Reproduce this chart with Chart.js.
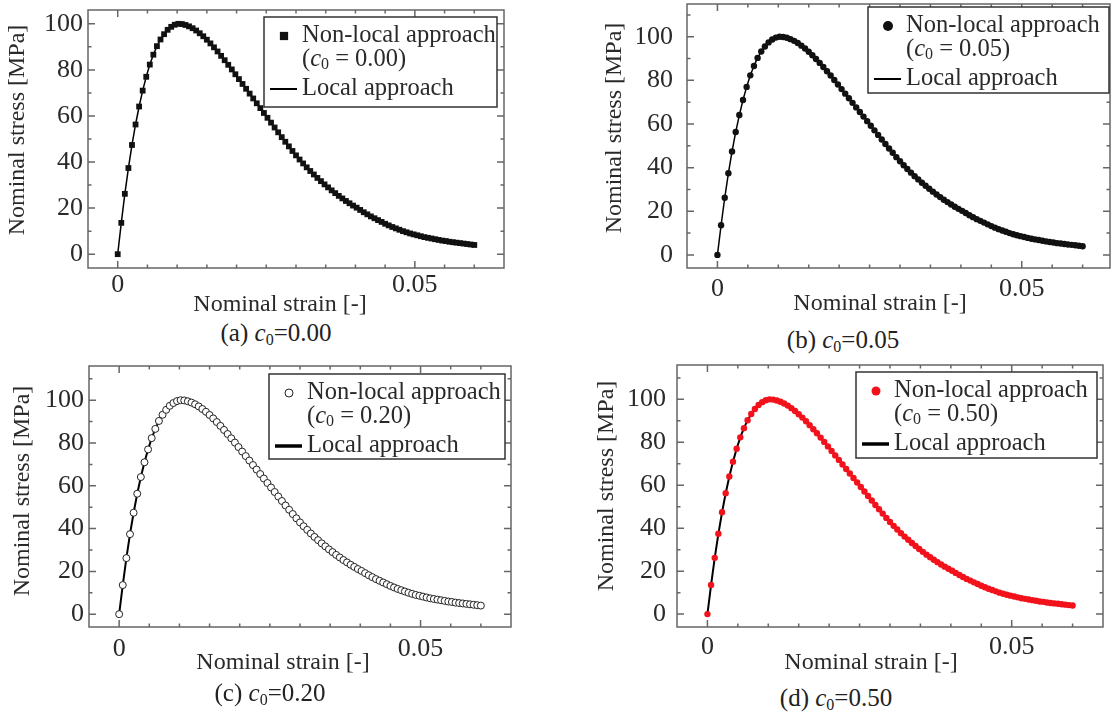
<!DOCTYPE html>
<html>
<head>
<meta charset="utf-8">
<script src="https://cdn.jsdelivr.net/npm/chart.js@4.4.1/dist/chart.umd.min.js"></script>
<style>
  html, body { margin: 0; padding: 0; background: #fff; }
  #page { position: relative; width: 1114px; height: 712px; overflow: hidden; }
  #page canvas { position: absolute; }
  .cap { position: absolute; font: 25px "Liberation Serif", serif; color: #222; white-space: nowrap; transform: translate(-50%, -50%); }
  .cap sub { font-size: 16px; vertical-align: -4px; line-height: 0; }
</style>
</head>
<body>
<div id="page"></div>
<script>
// Data (same curve in all four panels; non-local overlaps local)
const strain = [
  0, 0.0006, 0.0012, 0.0018, 0.0024, 0.003, 0.0036, 0.0042, 0.0048, 0.0054,
  0.006, 0.0066, 0.0072, 0.0078, 0.0084, 0.009, 0.0096, 0.0102, 0.0108, 0.0114,
  0.012, 0.0126, 0.0132, 0.0138, 0.0144, 0.015, 0.0156, 0.0162, 0.0168, 0.0174,
  0.018, 0.0186, 0.0192, 0.0198, 0.0204, 0.021, 0.0216, 0.0222, 0.0228, 0.0234,
  0.024, 0.0246, 0.0252, 0.0258, 0.0264, 0.027, 0.0276, 0.0282, 0.0288, 0.0294,
  0.03, 0.0306, 0.0312, 0.0318, 0.0324, 0.033, 0.0336, 0.0342, 0.0348, 0.0354,
  0.036, 0.0366, 0.0372, 0.0378, 0.0384, 0.039, 0.0396, 0.0402, 0.0408, 0.0414,
  0.042, 0.0426, 0.0432, 0.0438, 0.0444, 0.045, 0.0456, 0.0462, 0.0468, 0.0474,
  0.048, 0.0486, 0.0492, 0.0498, 0.0504, 0.051, 0.0516, 0.0522, 0.0528, 0.0534,
  0.054, 0.0546, 0.0552, 0.0558, 0.0564, 0.057, 0.0576, 0.0582, 0.0588, 0.0594,
  0.06
];
const stress = [
  0, 13.6, 26.2, 37.4, 47.4, 56.3, 64.1, 71.0, 77.0, 82.3,
  86.6, 90.3, 93.2, 95.5, 97.4, 98.7, 99.6, 100.0, 99.9, 99.5,
  98.9, 98.1, 97.1, 95.9, 94.6, 93.1, 91.5, 89.8, 88.0, 86.1,
  84.2, 82.2, 80.2, 78.1, 76.0, 73.9, 71.8, 69.7, 67.6, 65.5,
  63.4, 61.3, 59.2, 57.1, 55.0, 52.9, 50.8, 48.8, 46.8, 44.8,
  42.9, 41.1, 39.4, 37.7, 36.1, 34.6, 33.1, 31.7, 30.3, 29.0,
  27.7, 26.5, 25.3, 24.2, 23.1, 22.1, 21.1, 20.2, 19.2, 18.2,
  17.3, 16.4, 15.6, 14.8, 14.0, 13.2, 12.5, 11.8, 11.2, 10.6,
  10.0, 9.5, 9.0, 8.6, 8.2, 7.8, 7.4, 7.1, 6.8, 6.5,
  6.2, 5.9, 5.7, 5.4, 5.2, 5.0, 4.8, 4.6, 4.4, 4.2,
  4.0
];

// Ticks and labels
const xTickValues = [0, 0.05];
const xTickLabels = ['0', '0.05'];
const xMinorTicks = [0.005, 0.01, 0.015, 0.02, 0.025, 0.03, 0.035, 0.04, 0.045, 0.055, 0.06];
const yTickValues = [0, 20, 40, 60, 80, 100];
const yTickLabels = ['0', '20', '40', '60', '80', '100'];
const yMinorTicks = [10, 30, 50, 70, 90, 110];

const panelLetters = ['a', 'b', 'c', 'd'];
const c0Labels = ['0.00', '0.05', '0.20', '0.50'];
const xTitle = 'Nominal strain [-]';
const yTitle = 'Nominal stress [MPa]';
const legendLabels = ['Non-local approach', 'Local approach'];

// Layout / style per panel (page pixel coords)
const panels = [
  { cl: 0, ct: 0, cw: 556, ch: 318, area: [88, 10, 504, 268], yMax: 106, xMax: 0.065,
    style: 'rect', radius: 4.1, fill: '#111', stroke: '#111', bw: 0, lineW: 1.5, legLineW: 2, legR: 5.5,
    leg: [264, 17, 497, 107], yPad: 5, xPad: 2, yT: [18, 130], xT: [280, 305], cap: [276, 333] },
  { cl: 558, ct: 0, cw: 556, ch: 318, area: [687, 4, 1111, 268], yMax: 115, xMax: 0.0645,
    style: 'circle', radius: 3.2, fill: '#111', stroke: '#111', bw: 0, lineW: 1.5, legLineW: 2, legR: 5,
    leg: [868, 7, 1109, 93], yPad: 14, xPad: 6, yT: [615, 128], xT: [880, 304], cap: [843, 340] },
  { cl: 0, ct: 350, cw: 556, ch: 330, area: [89, 366, 511, 627], yMax: 116, xMax: 0.065,
    style: 'circle', radius: 3.5, fill: '#fff', stroke: '#222', bw: 1, lineW: 2, legLineW: 3.5, legR: 4,
    leg: [269, 374, 505, 459], yPad: 5, xPad: 7, yT: [23, 491], xT: [283, 663], cap: [270, 693] },
  { cl: 558, ct: 350, cw: 556, ch: 330, area: [677, 365, 1103, 627], yMax: 116, xMax: 0.065,
    style: 'circle', radius: 3.2, fill: '#f2121c', stroke: '#f2121c', bw: 0, lineW: 2, legLineW: 3.5, legR: 4.5,
    leg: [856, 372, 1097, 458], yPad: 11, xPad: 5, yT: [607, 486], xT: [871, 663], cap: [836, 698] }
];

const FONT = '"Liberation Serif", "Times New Roman", serif';
const textColor = '#2a2a2a';
const axisColor = '#666';
const tickFont = 26;

function drawMarker(ctx, p, x, y, r) {
  ctx.beginPath();
  if (p.style === 'rect') {
    ctx.rect(x - r * 0.75, y - r * 0.75, r * 1.5, r * 1.5);
  } else {
    ctx.arc(x, y, r, 0, Math.PI * 2);
  }
  ctx.fillStyle = p.fill;
  ctx.fill();
  if (p.bw) { ctx.lineWidth = p.bw; ctx.strokeStyle = p.stroke; ctx.stroke(); }
}

function makeFrame(p, i) {
  return {
    id: 'frame' + i,
    afterDatasetsDraw(chart) {
      const { ctx, chartArea: a, scales: { x, y } } = chart;
      ctx.save();
      ctx.strokeStyle = axisColor;
      ctx.lineWidth = 1.5;
      ctx.beginPath();
      const vtick = (v, len) => {
        const px = x.getPixelForValue(v);
        ctx.moveTo(px, a.bottom); ctx.lineTo(px, a.bottom - len);
        ctx.moveTo(px, a.top); ctx.lineTo(px, a.top + len);
      };
      const htick = (v, len) => {
        const py = y.getPixelForValue(v);
        ctx.moveTo(a.left, py); ctx.lineTo(a.left + len, py);
        ctx.moveTo(a.right, py); ctx.lineTo(a.right - len, py);
      };
      xTickValues.forEach(v => vtick(v, 7));
      xMinorTicks.forEach(v => vtick(v, 3.5));
      yTickValues.forEach(v => htick(v, 7));
      yMinorTicks.forEach(v => { if (v < y.max) htick(v, 3.5); });
      ctx.stroke();
      ctx.strokeRect(a.left, a.top, a.right - a.left, a.bottom - a.top);
      ctx.restore();
    },
    afterDraw(chart) {
      const ctx = chart.ctx;
      const ox = p.cl, oy = p.ct;
      ctx.save();
      ctx.fillStyle = textColor;
      ctx.font = '24px ' + FONT;
      ctx.textAlign = 'center';
      ctx.textBaseline = 'middle';
      // axis titles
      ctx.fillText(xTitle, p.xT[0] - ox, p.xT[1] - oy);
      ctx.save();
      ctx.translate(p.yT[0] - ox, p.yT[1] - oy);
      ctx.rotate(-Math.PI / 2);
      ctx.fillText(yTitle, 0, 0);
      ctx.restore();

      // legend box
      const [l, t, r, b] = p.leg.map((v, k) => v - (k % 2 ? oy : ox));
      ctx.fillStyle = '#fff';
      ctx.fillRect(l, t, r - l, b - t);
      ctx.strokeStyle = '#333';
      ctx.lineWidth = 1.5;
      ctx.strokeRect(l, t, r - l, b - t);

      const tx = l + 38, r1 = t + 19, r2 = t + 43, r3 = t + 72;
      drawMarker(ctx, p, l + 20, r1, p.legR);
      ctx.fillStyle = textColor;
      ctx.textAlign = 'left';
      ctx.font = '24.5px ' + FONT;
      ctx.fillText(legendLabels[0], tx, r1);
      // (c0 = x.xx)
      let cx = tx;
      ctx.fillText('(', cx, r2); cx += ctx.measureText('(').width;
      ctx.font = 'italic 24.5px ' + FONT;
      ctx.fillText('c', cx, r2); cx += ctx.measureText('c').width;
      ctx.font = '16px ' + FONT;
      ctx.fillText('0', cx, r2 + 5); cx += ctx.measureText('0').width;
      ctx.font = '24.5px ' + FONT;
      ctx.fillText(' = ' + c0Labels[i] + ')', cx, r2);
      // local line sample
      ctx.strokeStyle = '#000';
      ctx.lineWidth = p.legLineW;
      ctx.beginPath();
      ctx.moveTo(l + 6, r3); ctx.lineTo(l + 33, r3);
      ctx.stroke();
      ctx.fillText(legendLabels[1], tx, r3);
      ctx.restore();
    }
  };
}

const page = document.getElementById('page');
const points = strain.map((v, k) => ({ x: v, y: stress[k] }));

panels.forEach((p, i) => {
  const cv = document.createElement('canvas');
  cv.width = p.cw; cv.height = p.ch;
  cv.style.left = p.cl + 'px'; cv.style.top = p.ct + 'px';
  page.appendChild(cv);

  const [al, at, ar, ab] = p.area;
  const yw = 50, xh = 36;
  const pad = {
    left: al - p.cl - yw,
    top: at - p.ct,
    right: p.cl + p.cw - ar,
    bottom: p.ct + p.ch - ab - xh
  };

  new Chart(cv, {
    type: 'scatter',
    data: {
      datasets: [
        {
          label: legendLabels[0],
          data: points,
          showLine: false,
          pointStyle: p.style,
          pointRadius: p.radius,
          pointBackgroundColor: p.fill,
          pointBorderColor: p.stroke,
          pointBorderWidth: p.bw,
          order: 1
        },
        {
          label: legendLabels[1],
          data: points,
          showLine: true,
          pointRadius: 0,
          borderColor: '#000',
          borderWidth: p.lineW,
          order: 2
        }
      ]
    },
    options: {
      responsive: false,
      animation: false,
      events: [],
      layout: { padding: pad },
      plugins: { legend: { display: false }, tooltip: { enabled: false } },
      scales: {
        x: {
          type: 'linear', min: -0.005, max: p.xMax,
          grid: { display: false, drawTicks: false },
          border: { display: false },
          afterBuildTicks: s => { s.ticks = xTickValues.map(v => ({ value: v })); },
          afterFit: s => { s.height = xh; s.paddingLeft = 0; s.paddingRight = 0; },
          ticks: {
            autoSkip: false, maxRotation: 0, padding: p.xPad,
            color: textColor, font: { family: FONT, size: tickFont },
            callback: (v, k) => xTickLabels[k]
          }
        },
        y: {
          type: 'linear', min: -6, max: p.yMax,
          grid: { display: false, drawTicks: false },
          border: { display: false },
          afterBuildTicks: s => { s.ticks = yTickValues.map(v => ({ value: v })); },
          afterFit: s => { s.width = yw; s.paddingTop = 0; s.paddingBottom = 0; },
          ticks: {
            autoSkip: false, padding: p.yPad,
            color: textColor, font: { family: FONT, size: tickFont },
            callback: (v, k) => yTickLabels[k]
          }
        }
      }
    },
    plugins: [makeFrame(p, i)]
  });

  const cap = document.createElement('div');
  cap.className = 'cap';
  cap.style.left = p.cap[0] + 'px';
  cap.style.top = p.cap[1] + 'px';
  cap.innerHTML = '(' + panelLetters[i] + ') <i>c</i><sub>0</sub>=' + c0Labels[i];
  page.appendChild(cap);
});
</script>
</body>
</html>
